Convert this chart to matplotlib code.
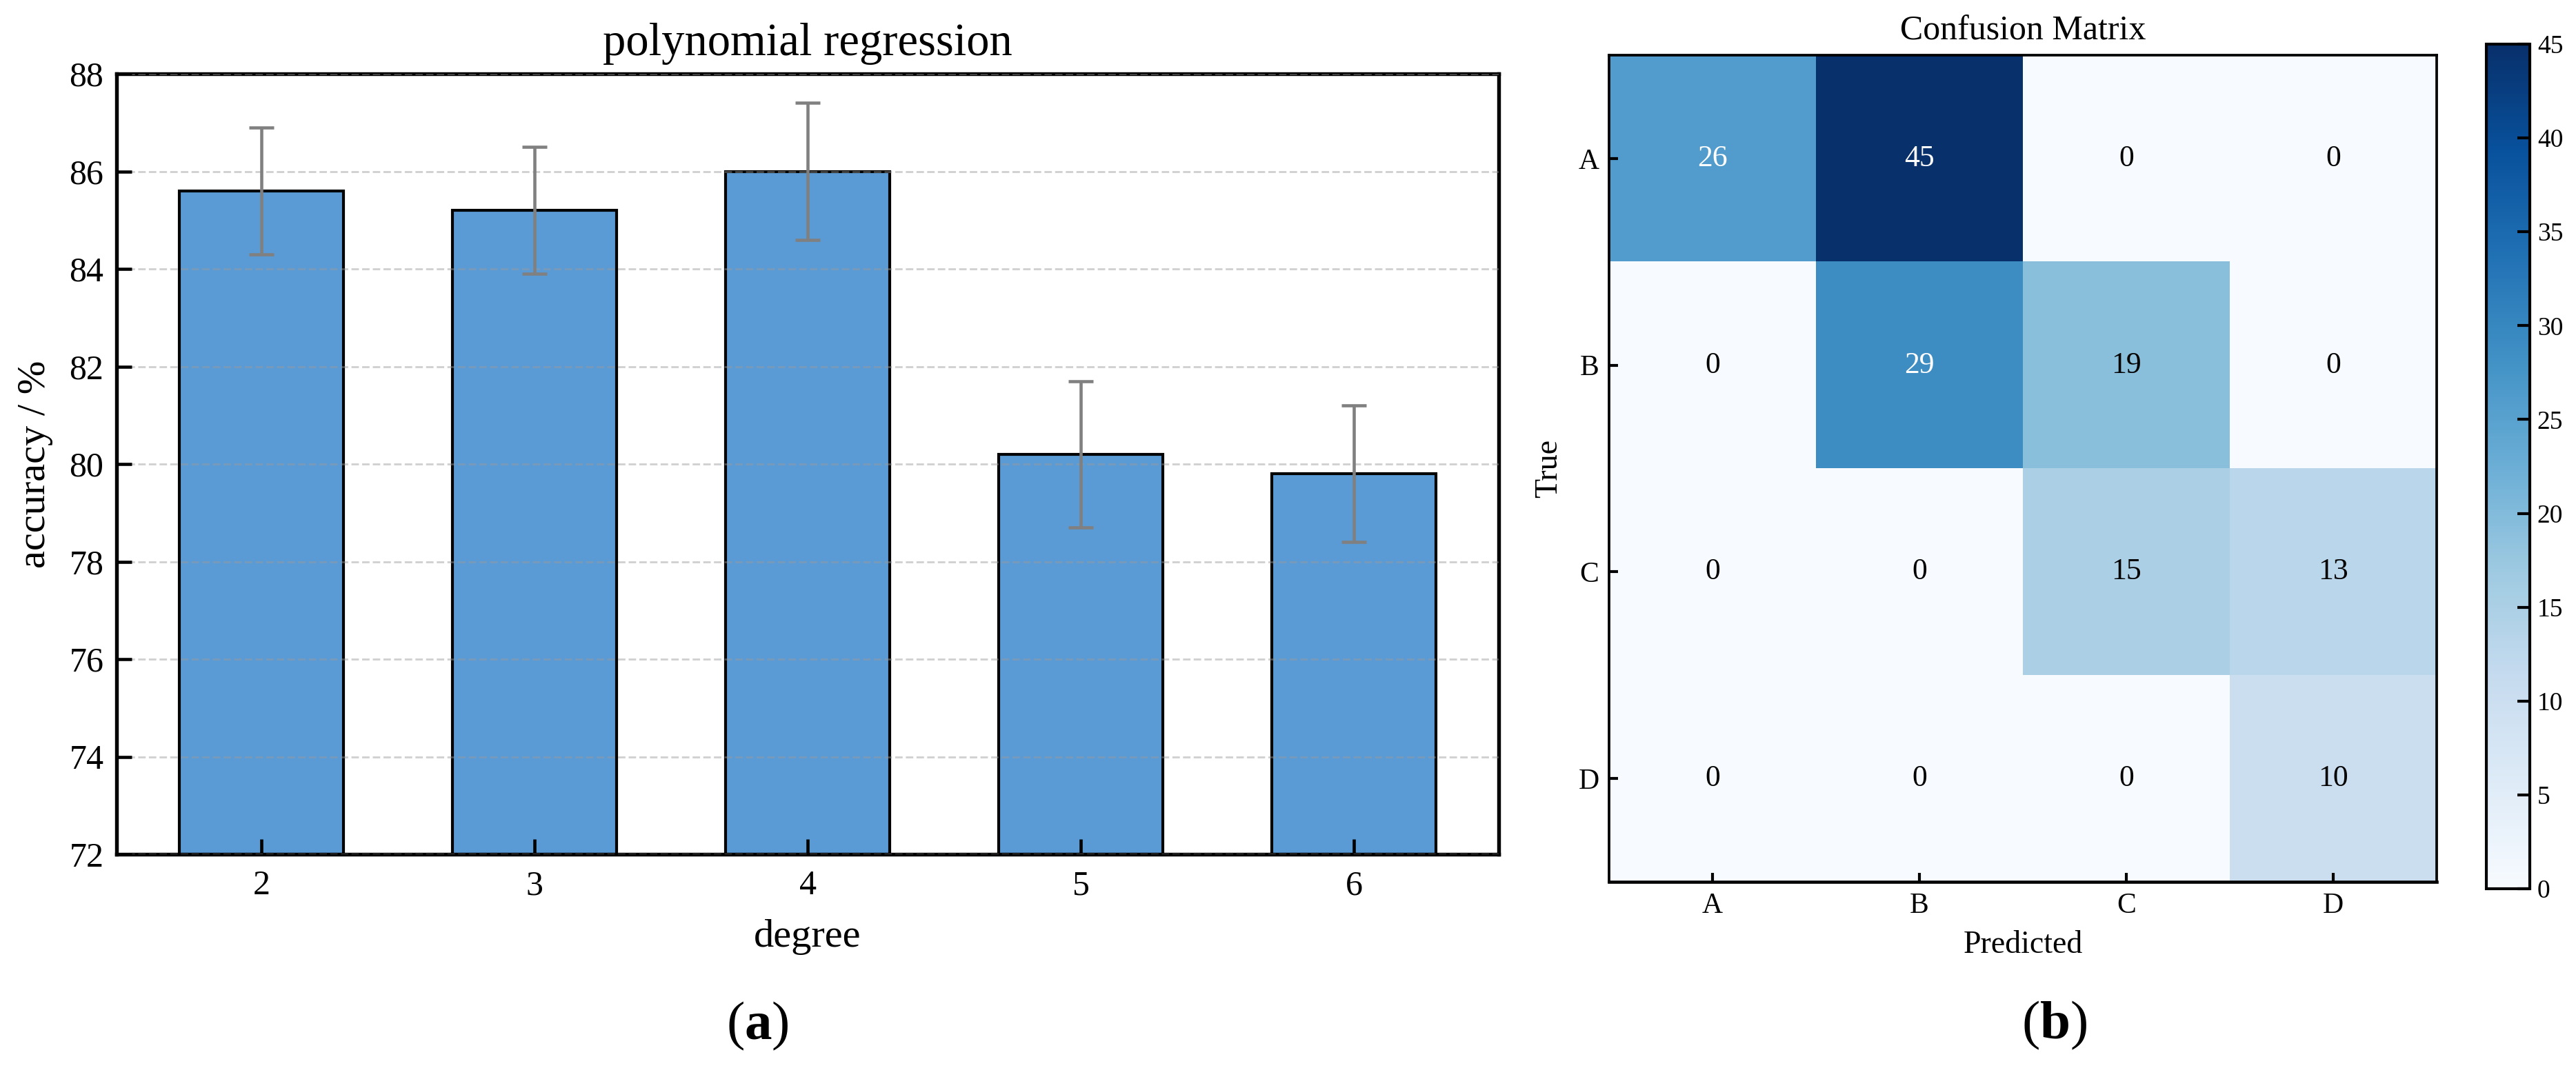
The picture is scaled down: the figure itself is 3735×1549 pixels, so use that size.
import matplotlib
matplotlib.use("Agg")
import numpy as np
import matplotlib.pyplot as plt

plt.rcParams["font.family"] = ["Liberation Serif", "DejaVu Serif"]
plt.rcParams["mathtext.fontset"] = "custom"
plt.rcParams["mathtext.rm"] = "Liberation Serif"
plt.rcParams["mathtext.bf"] = "Liberation Serif:bold"

# ---- data ------------------------------------------------------------
degrees = [2, 3, 4, 5, 6]
accuracy = [85.6, 85.2, 86.0, 80.2, 79.8]
acc_err = [1.3, 1.3, 1.4, 1.5, 1.4]

classes = ["A", "B", "C", "D"]
conf = np.array([
    [26, 45, 0, 0],
    [0, 29, 19, 0],
    [0, 0, 15, 13],
    [0, 0, 0, 10],
])

W, H = 3735, 1549
DPI = 300
fig = plt.figure(figsize=(W / DPI, H / DPI), dpi=DPI)


def rect(x0, y0, x1, y1):
    """pixel box (top-left origin) -> figure fraction rect"""
    return [x0 / W, 1 - y1 / H, (x1 - x0) / W, (y1 - y0) / H]


# ---- (a) bar chart ---------------------------------------------------
ax = fig.add_axes(rect(169, 107, 2173, 1239))
ax.bar(degrees, accuracy, width=0.6, color="#5b9bd5", edgecolor="black",
       linewidth=1.0, zorder=2)
ax.errorbar(degrees, accuracy, yerr=acc_err, fmt="none", ecolor="#808080",
            elinewidth=1.1, capsize=4.3, capthick=1.1, zorder=4)
ax.set_xlim(1.47, 6.53)
ax.set_ylim(72, 88)
ax.set_xticks(degrees)
ax.set_yticks(np.arange(72, 89, 2))
ax.grid(axis="y", linestyle="--", color="#9a9a9a", alpha=0.45, lw=0.7,
        zorder=3)
ax.set_axisbelow(False)
ax.tick_params(direction="in", length=5.3, width=1.1, labelsize=12,
               top=False, right=False)
ax.tick_params(axis="y", pad=4.5)
ax.tick_params(axis="x", pad=5.5)
for s in ax.spines.values():
    s.set_linewidth(1.3)
ax.set_title("polynomial regression", fontsize=16, pad=6.5)
ax.set_xlabel("degree", fontsize=14, labelpad=6)
ax.set_ylabel("accuracy / %", fontsize=14, labelpad=5.5)

# ---- (b) confusion matrix --------------------------------------------
axm = fig.add_axes(rect(2333, 80, 3533, 1279))
im = axm.imshow(conf, cmap="Blues", vmin=0, vmax=45, aspect="auto")
for i in range(conf.shape[0]):
    for j in range(conf.shape[1]):
        v = conf[i, j]
        axm.text(j, i, str(v), ha="center", va="center", fontsize=10.5,
                 color="white" if v > 22.5 else "black")
axm.set_xticks(range(len(classes)))
axm.set_xticklabels(classes)
axm.set_yticks(range(len(classes)))
axm.set_yticklabels(classes)
axm.tick_params(direction="in", length=3.2, width=1.0, labelsize=10,
                top=False, right=False)
axm.tick_params(axis="x", pad=3.6)
axm.tick_params(axis="y", pad=3.5)
for s in axm.spines.values():
    s.set_linewidth(0.9)
axm.spines["bottom"].set_linewidth(1.1)
axm.set_title("Confusion Matrix", fontsize=12, pad=5.3)
axm.set_xlabel("Predicted", fontsize=11, labelpad=4)
axm.set_ylabel("True", fontsize=11, labelpad=5)

cax = fig.add_axes(rect(3605, 64, 3668, 1289))
cb = fig.colorbar(im, cax=cax, ticks=range(0, 46, 5))
cb.outline.set_linewidth(1.0)
cax.tick_params(direction="in", length=4.3, width=1.0, labelsize=9, pad=2.6)

# ---- panel letters ---------------------------------------------------
fig.text(1098 / W, 1 - 1488 / H, r"($\mathbf{a}$)", ha="center",
         va="center", fontsize=19)
fig.text(2979 / W, 1 - 1487 / H, r"($\mathbf{b}$)", ha="center",
         va="center", fontsize=19)

fig.savefig("out.png", dpi=DPI)
